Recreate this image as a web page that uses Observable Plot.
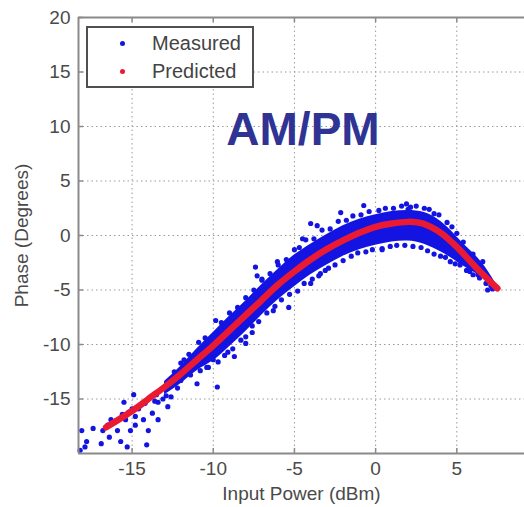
<!DOCTYPE html>
<html><head><meta charset="utf-8">
<script src="https://cdn.jsdelivr.net/npm/d3@7"></script>
<script src="https://cdn.jsdelivr.net/npm/@observablehq/plot@0.6"></script>
<style>
html,body{margin:0;padding:0;background:#fff;}
#wrap{position:relative;width:524px;height:507px;overflow:hidden;font-family:"Liberation Sans",Arial,sans-serif;}
#title{position:absolute;left:203px;top:106px;width:200px;text-align:center;font-size:46px;line-height:46px;font-weight:bold;color:#2f3393;}
#legend{position:absolute;left:86px;top:26px;width:164px;height:58px;border:2px solid #505050;background:#fff;}
#legend .dot{position:absolute;width:5px;height:5px;border-radius:50%;}
#legend .lab{position:absolute;font-size:20px;line-height:20px;color:#444;white-space:nowrap;}
</style></head><body><div id="wrap"></div>
<script>
// axis ticks and domains
const xTicks = [-15, -10, -5, 0, 5];
const yTicks = [-15, -10, -5, 0, 5, 10, 15, 20];
const xDomain = [-18.3, 9.17];
const yDomain = [-20, 20];

// Predicted (model) curve
const predX = [-16.6, -15.0, -14.0, -13.0, -12.0, -11.0, -10.0, -9.0, -8.0, -7.0, -6.0, -5.0, -4.0, -3.0, -2.0, -1.0, 0.0, 1.0, 2.0, 2.6, 3.0, 3.8, 4.5, 5.2, 6.2, 7.5];
const predY = [-17.6, -16.1, -15.0, -13.9, -12.7, -11.4, -10.1, -8.7, -7.3, -5.9, -4.5, -3.3, -2.2, -1.25, -0.45, 0.25, 0.8, 1.1, 1.25, 1.2, 1.05, 0.45, -0.35, -1.35, -2.95, -4.85];

// Measured: dense core of the cloud (lower / upper edge)
const bandX  = [-13.0, -12.0, -11.0, -10.0, -9.0, -8.0, -7.0, -6.0, -5.0, -4.0, -3.0, -2.0, -1.0, 0.0, 1.0, 2.0, 3.0, 4.0, 4.8, 5.5, 6.5, 7.4];
const bandLo = [-14.6, -13.6, -12.4, -11.5, -10.2, -8.8, -7.3, -5.9, -4.7, -3.6, -2.7, -1.9, -1.3, -0.9, -0.6, -0.5, -0.8, -1.5, -2.2, -2.9, -3.8, -4.95];
const bandHi = [-13.4, -12.0, -10.4, -8.9, -7.4, -6.0, -4.5, -3.1, -1.8, -0.8, 0.1, 0.9, 1.5, 1.9, 2.2, 2.3, 2.1, 1.3, 0.2, -0.9, -2.4, -4.4];

// Measured: individual samples visible around the core
const measX = [-18.1, -17.4, -17.9, -18.2, -17.8, -16.9, -16.3, -16.4, -15.9, -15.7, -15.3, -15.5, -15.2, -15.1, -14.8, -14.6, -14.1, -14.3, -14.0, -13.75, -13.4, -13.4, -12.8, -12.2, -12.0, -11.8, -12.6, -13.1, -12.0, -11.8, -11.4, -11.0, -10.8, -10.9, -10.4, -10.0, -9.75, -9.5, -9.1, -8.7,
  -16.5, -16.0, -15.6, -14.5, -14.0, -13.5, -13.0, -12.5, -11.6, -11.2, -16.8, -15.0,
  -7.4, -7.3, -9.85, -7.0, -6.05, -5.35, -4.0, -3.6, -2.15, -0.73, -4.0, -3.5, -3.1, -4.5, -6.3, -8.0, -7.6, 2.15, 1.9, 0.4, 6.9, 5.8, 6.3, 7.1, 4.6,
  -9.5, -8.5, -7.5, -6.5, -5.5, -4.7, -3.8, -2.8, -1.8, -0.9, 0.2, 1.1, 2.5, 3.3, 3.9, 4.4, 5.0,
  -10.3, -9.3, -8.3, -7.6, -6.7, -5.8, -4.8, -3.9, -2.9, -2.0, -1.1, -0.2, 0.9, 1.8, 2.8, 3.6, 4.3, 5.2, 6.0, 6.8,
  -10.5, -9.0, -8.0, -7.0, -6.0, -5.0, -4.3, -3.3, -2.3, -1.4, -0.4, 0.6, 1.6, 2.0, 3.0, 3.6, 4.7, 5.4, 6.0, 6.6,
  -10.8, -9.7, -8.8, -8.0, -7.2, -6.2, -5.3, -4.4, -3.4, -2.5, -1.5, -0.6, 0.4, 1.3, 2.3, 3.2, 4.0, 4.9, 5.6, 6.4, 7.2,
  -14.8, -14.2, -13.6, -12.9, -12.4, -11.5, -15.4, -14.9];
const measY = [-17.9, -17.7, -19.4, -19.7, -18.9, -19.1, -16.9, -18.5, -17.9, -18.9, -19.4, -15.3, -16.2, -17.9, -17.4, -15.9, -19.2, -16.9, -17.9, -16.3, -16.9, -15.3, -15.7, -14.0, -13.3, -12.6, -14.8, -15.0, -11.7, -11.4, -12.8, -13.6, -11.0, -9.8, -12.1, -11.4, -13.9, -10.2, -10.7, -11.1,
  -17.4, -17.0, -16.4, -15.6, -15.0, -14.6, -13.9, -13.3, -12.2, -11.6, -17.9, -15.9,
  -2.9, -3.7, -7.8, -4.0, -2.4, -6.6, 1.1, 0.9, 2.1, 2.75, -4.4, -3.7, -3.2, -0.3, -6.9, -9.9, -8.9, 2.6, 2.9, -1.3, -5.0, -3.3, -3.6, -4.6, -2.4,
  -8.0, -6.6, -5.0, -3.5, -2.2, -1.1, -0.3, 0.6, 1.4, 1.9, 2.3, 2.5, 2.7, 2.4, 1.9, 1.2, 0.2,
  -12.1, -11.0, -9.6, -8.3, -7.1, -5.9, -5.1, -4.0, -3.0, -2.3, -1.6, -1.3, -1.0, -0.9, -1.1, -1.7, -2.0, -2.7, -3.6, -4.4,
  -9.4, -7.1, -5.7, -4.1, -2.7, -1.3, -0.4, 0.5, 1.3, 1.8, 2.2, 2.5, 2.7, 2.4, 2.5, 2.0, 0.8, -0.6, -1.7, -2.4,
  -12.4, -11.6, -10.4, -9.3, -7.9, -6.5, -5.4, -4.4, -3.5, -2.7, -1.9, -1.5, -1.2, -0.9, -1.0, -1.4, -1.9, -2.6, -3.2, -3.9, -4.9,
  -16.6, -15.4, -15.2, -14.7, -12.5, -10.9, -16.9, -14.6];

const BLUE = "#1414e2", RED = "#ea1a32", GRID = "#9a9a9a", AXIS = "#8a8a8a", TEXT = "#4a4a4a";

const pred = predX.map((x, i) => ({x, y: predY[i]}));
const band = bandX.map((x, i) => ({x, lo: bandLo[i], hi: bandHi[i]}));
const meas = measX.map((x, i) => ({x, y: measY[i]}));

const tx = 5 / 16.24, ty = 5 / 10.9; // inward tick length (5px) in data units
const fmt = d => String(d); // hyphen minus, as in the original

const chart = Plot.plot({
  width: 524, height: 507,
  marginLeft: 78, marginRight: 0, marginTop: 17, marginBottom: 54,
  style: {fontFamily: "'Liberation Sans', Arial, sans-serif", fontSize: "19px", color: TEXT, background: "#fff"},
  x: {domain: xDomain},
  y: {domain: yDomain},
  marks: [
    Plot.gridX(xTicks, {stroke: GRID, strokeOpacity: 1, strokeDasharray: "1.5,3"}),
    Plot.gridY(yTicks, {stroke: GRID, strokeOpacity: 1, strokeDasharray: "1.5,3"}),
    Plot.areaY(band, {x: "x", y1: "lo", y2: "hi", fill: BLUE, curve: "natural"}),
    Plot.dot(meas, {x: "x", y: "y", r: 2.6, fill: BLUE}),
    Plot.line(pred, {x: "x", y: "y", stroke: RED, strokeWidth: 6.5, curve: "natural", strokeLinecap: "round"}),
    Plot.ruleX([xDomain[0]], {stroke: AXIS, strokeWidth: 2}),
    Plot.ruleY(yDomain, {stroke: AXIS, strokeWidth: 2}),
    Plot.ruleX(xTicks, {y1: yDomain[0], y2: yDomain[0] + ty, stroke: AXIS, strokeWidth: 1.5}),
    Plot.ruleX(xTicks, {y1: yDomain[1], y2: yDomain[1] - ty, stroke: AXIS, strokeWidth: 1.5}),
    Plot.ruleY(yTicks, {x1: xDomain[0], x2: xDomain[0] + tx, stroke: AXIS, strokeWidth: 1.5}),
    Plot.axisX(xTicks, {tickSize: 0, tickPadding: 8, tickFormat: fmt, fill: TEXT, label: "Input Power (dBm)", labelAnchor: "center", labelOffset: 46, labelArrow: "none"}),
    Plot.axisY(yTicks, {tickSize: 0, tickPadding: 8, tickFormat: fmt, fill: TEXT, label: "Phase (Degrees)", labelAnchor: "center", labelOffset: 64, labelArrow: "none"})
  ]
});

const wrap = document.getElementById("wrap");
wrap.appendChild(chart);

const title = document.createElement("div");
title.id = "title";
title.textContent = "AM/PM";
wrap.appendChild(title);

const legendItems = [{label: "Measured", color: BLUE}, {label: "Predicted", color: RED}];
const legend = document.createElement("div");
legend.id = "legend";
legendItems.forEach((d, i) => {
  const cy = 15 + i * 28;
  const dot = document.createElement("span");
  dot.className = "dot";
  dot.style.left = "32px"; dot.style.top = (cy - 2.5) + "px"; dot.style.background = d.color;
  const lab = document.createElement("span");
  lab.className = "lab";
  lab.style.left = "64px"; lab.style.top = (cy - 10) + "px";
  lab.textContent = d.label;
  legend.appendChild(dot); legend.appendChild(lab);
});
wrap.appendChild(legend);
</script>
</body></html>
